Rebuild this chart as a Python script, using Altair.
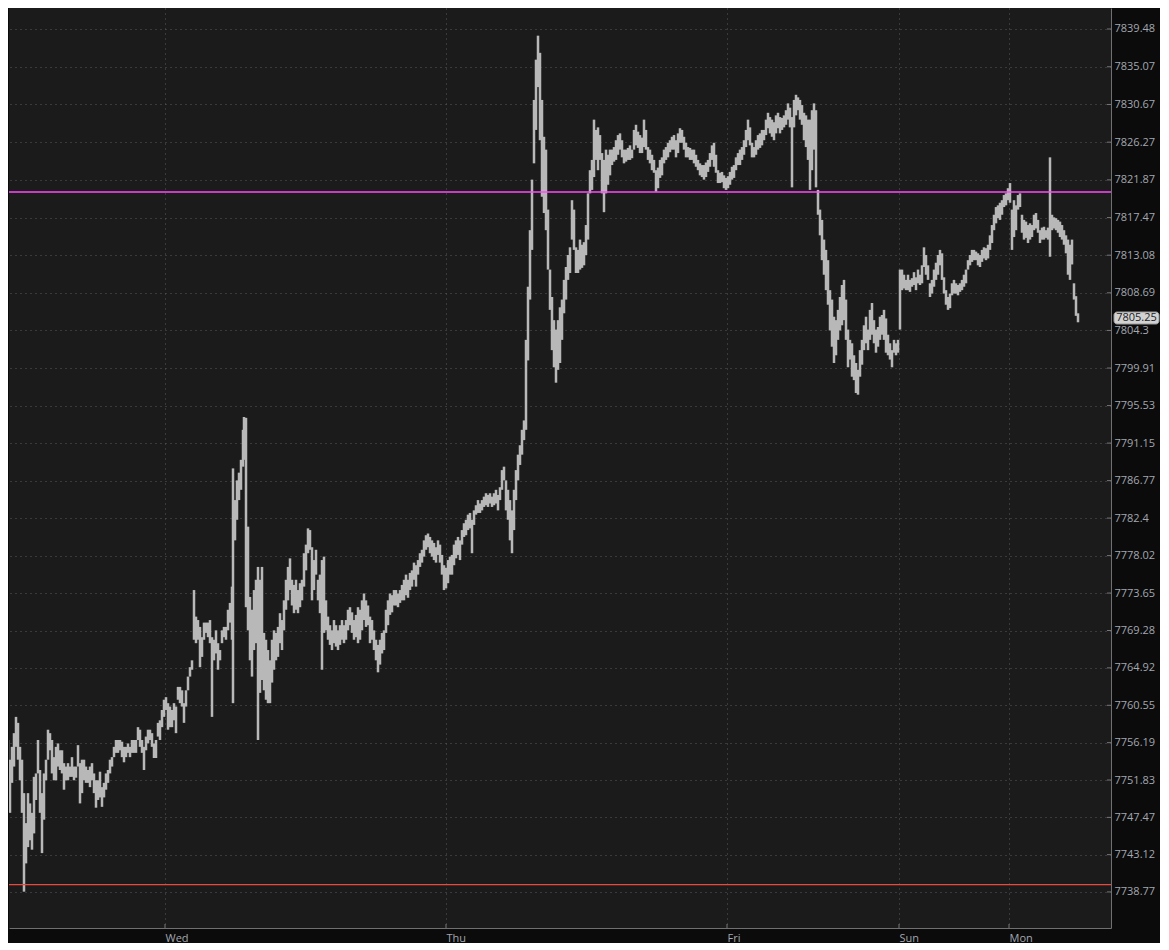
import altair as alt
import pandas as pd

# one entry per 5-minute bar (bar number on the x axis)
bar_no = ([0, 3] + list(range(5, 232, 2)) + [232] + list(range(234, 243, 2))
          + [243] + list(range(245, 1078, 2)))

high = [
    7765.5, 7762.0, 7759.6, 7756.5, 7754.2, 7755.7, 7757.3, 7759.2, 7758.5, 7755.7,
    7754.2, 7750.3, 7746.8, 7750.3, 7749.1, 7748.0, 7752.2, 7752.6, 7756.5, 7753.0,
    7750.3, 7752.6, 7754.2, 7757.7, 7757.3, 7756.5, 7754.5, 7755.7, 7756.1, 7755.3,
    7755.3, 7753.8, 7753.4, 7753.8, 7753.4, 7754.5, 7753.4, 7753.4, 7755.9, 7753.8,
    7754.2, 7754.2, 7753.4, 7753.0, 7753.4, 7753.8, 7752.6, 7751.8, 7751.8, 7752.8,
    7751.0, 7751.5, 7752.6, 7753.0, 7754.2, 7754.5, 7755.7, 7756.5, 7756.5, 7756.5,
    7756.3, 7755.7, 7755.7, 7756.1, 7755.7, 7756.5, 7756.5, 7756.5, 7758.0, 7757.7,
    7756.5, 7755.7, 7756.9, 7757.7, 7757.7, 7757.3, 7756.1, 7756.5, 7758.5, 7758.8,
    7760.0, 7761.2, 7761.5, 7760.8, 7760.4, 7760.0, 7760.8, 7760.4, 7762.7, 7762.7,
    7762.3, 7760.8, 7762.3, 7763.9, 7765.0, 7765.8, 7774.0, 7770.9, 7770.5, 7769.7,
    7768.5, 7770.2, 7770.2, 7770.2, 7770.5, 7768.5, 7768.2, 7769.3, 7767.8, 7767.0,
    7769.3, 7769.7, 7769.7, 7771.7, 7772.5, 7774.4, 7788.2, 7784.5, 7786.8, 7787.7,
    7789.2, 7792.7, 7794.2, 7794.1, 7781.4, 7773.2, 7771.7, 7774.0, 7775.2, 7776.7,
    7775.2, 7776.7, 7769.0, 7768.2, 7767.0, 7765.8, 7768.2, 7769.3, 7769.0, 7769.7,
    7771.3, 7770.5, 7772.8, 7775.2, 7776.7, 7777.7, 7775.2, 7774.6, 7775.2, 7774.0,
    7774.8, 7775.2, 7778.3, 7779.3, 7781.2, 7781.0, 7779.0, 7777.5, 7778.7, 7775.2,
    7775.8, 7777.5, 7777.9, 7772.8, 7770.9, 7769.9, 7769.3, 7770.5, 7769.9, 7769.3,
    7769.9, 7770.5, 7769.9, 7770.5, 7771.7, 7772.0, 7771.4, 7770.5, 7771.1, 7772.0,
    7771.7, 7772.8, 7773.6, 7772.8, 7772.2, 7770.9, 7770.5, 7769.3, 7768.2, 7767.6,
    7768.2, 7769.0, 7769.3, 7771.7, 7772.8, 7773.6, 7773.4, 7774.0, 7774.0, 7773.6,
    7774.0, 7774.6, 7775.2, 7775.8, 7775.2, 7776.0, 7776.3, 7777.2, 7776.9, 7777.5,
    7778.3, 7778.7, 7779.8, 7780.4, 7780.6, 7780.2, 7779.8, 7779.5, 7779.0, 7779.8,
    7779.3, 7778.1, 7776.9, 7776.6, 7777.5, 7777.9, 7778.1, 7779.3, 7779.8, 7780.2,
    7779.8, 7781.0, 7781.8, 7782.2, 7782.8, 7783.0, 7782.2, 7783.3, 7783.9, 7784.5,
    7784.1, 7784.5, 7784.9, 7785.3, 7785.1, 7785.3, 7784.9, 7785.3, 7785.7, 7785.1,
    7786.0, 7788.0, 7788.4, 7786.8, 7785.7, 7784.5, 7783.3, 7785.7, 7788.0, 7789.8,
    7790.9, 7792.7, 7793.8, 7803.2, 7809.4, 7816.0, 7821.9, 7831.2, 7835.9, 7838.7,
    7836.7, 7831.2, 7826.9, 7825.4, 7818.4, 7811.4, 7808.2, 7805.5, 7804.4, 7805.5,
    7807.0, 7807.9, 7810.2, 7811.7, 7813.1, 7814.0, 7819.5, 7818.4, 7814.0, 7813.7,
    7814.9, 7814.3, 7814.6, 7816.6, 7820.3, 7823.0, 7824.2, 7828.9, 7827.7, 7828.0,
    7827.1, 7825.0, 7824.2, 7825.4, 7824.8, 7825.4, 7825.4, 7825.7, 7826.5, 7827.1,
    7827.3, 7826.5, 7825.4, 7825.4, 7825.6, 7825.9, 7825.4, 7827.7, 7828.3, 7827.5,
    7827.1, 7826.8, 7828.9, 7827.7, 7825.7, 7825.4, 7824.8, 7824.2, 7823.0, 7823.3,
    7824.2, 7824.5, 7825.4, 7825.7, 7826.2, 7826.5, 7826.9, 7827.1, 7826.5, 7827.3,
    7827.9, 7827.7, 7826.9, 7826.2, 7825.7, 7825.6, 7825.4, 7825.4, 7824.8, 7824.2,
    7823.8, 7823.6, 7823.6, 7823.9, 7824.2, 7825.0, 7825.9, 7826.2, 7824.8, 7823.0,
    7822.7, 7822.8, 7822.4, 7822.1, 7822.3, 7822.8, 7823.4, 7823.6, 7824.5, 7825.0,
    7825.4, 7825.7, 7826.5, 7827.7, 7828.9, 7828.0, 7826.2, 7825.7, 7826.5, 7827.1,
    7827.3, 7827.7, 7827.7, 7828.9, 7829.7, 7829.2, 7828.9, 7828.6, 7829.4, 7829.7,
    7829.2, 7829.1, 7829.4, 7830.0, 7830.8, 7830.3, 7829.2, 7831.2, 7831.8, 7831.5,
    7831.2, 7830.6, 7829.7, 7829.4, 7828.9, 7828.9, 7830.0, 7830.8, 7830.0, 7820.7,
    7818.4, 7817.2, 7814.9, 7813.7, 7812.5, 7809.0, 7807.9, 7805.9, 7805.5, 7806.7,
    7808.2, 7809.6, 7810.2, 7807.9, 7804.4, 7803.2, 7802.8, 7801.4, 7800.5, 7799.7,
    7802.0, 7803.2, 7804.9, 7805.9, 7804.4, 7806.7, 7807.5, 7805.5, 7804.4, 7804.7,
    7805.9, 7806.1, 7806.7, 7805.7, 7803.8, 7802.8, 7802.0, 7803.2, 7802.8, 7803.2,
    7811.4, 7811.4, 7810.8, 7810.2, 7810.8, 7810.2, 7810.4, 7811.1, 7810.5, 7811.4,
    7810.8, 7811.9, 7814.0, 7813.1, 7811.9, 7809.8, 7810.2, 7811.4, 7812.2, 7813.1,
    7813.7, 7813.3, 7810.5, 7809.0, 7808.2, 7808.6, 7809.8, 7810.2, 7809.8, 7809.6,
    7809.8, 7810.2, 7810.8, 7811.4, 7812.5, 7813.1, 7813.7, 7813.7, 7813.5, 7813.3,
    7813.1, 7813.7, 7814.0, 7813.9, 7814.3, 7815.4, 7816.6, 7817.8, 7818.7, 7818.9,
    7819.2, 7819.5, 7820.1, 7820.3, 7820.9, 7821.5, 7818.4, 7819.5, 7818.9, 7820.1,
    7820.3, 7817.8, 7817.2, 7817.0, 7816.6, 7816.8, 7816.6, 7817.8, 7818.0, 7817.2,
    7816.0, 7816.3, 7816.4, 7816.0, 7816.3, 7824.5, 7817.8, 7817.5, 7817.4, 7817.2,
    7817.0, 7816.6, 7816.0, 7815.4, 7814.9, 7814.3, 7814.9, 7809.8, 7808.3, 7806.3,
]

low = [
    7760.8, 7758.1, 7754.2, 7753.0, 7748.0, 7751.5, 7753.4, 7755.7, 7754.2, 7751.8,
    7748.0, 7738.8, 7742.1, 7744.0, 7744.8, 7743.7, 7745.6, 7749.5, 7752.6, 7748.0,
    7743.3, 7747.2, 7751.8, 7754.2, 7755.3, 7752.6, 7751.8, 7751.8, 7753.4, 7753.0,
    7752.6, 7750.7, 7751.8, 7751.8, 7752.2, 7752.2, 7751.8, 7752.1, 7753.4, 7749.1,
    7750.3, 7751.8, 7751.5, 7751.5, 7751.0, 7751.8, 7750.3, 7748.6, 7749.5, 7749.8,
    7748.7, 7749.8, 7750.7, 7751.5, 7752.6, 7753.4, 7754.5, 7755.0, 7755.0, 7755.3,
    7754.5, 7753.9, 7754.5, 7755.0, 7754.5, 7755.0, 7755.0, 7755.0, 7756.5, 7755.7,
    7755.0, 7753.0, 7755.3, 7756.1, 7756.5, 7755.7, 7754.4, 7754.4, 7756.9, 7756.5,
    7758.0, 7759.2, 7760.0, 7757.7, 7758.0, 7758.0, 7758.8, 7757.3, 7761.2, 7760.8,
    7760.4, 7758.5, 7760.4, 7762.3, 7763.9, 7764.7, 7768.2, 7767.8, 7768.2, 7765.0,
    7766.2, 7768.2, 7769.0, 7768.5, 7767.8, 7759.2, 7765.8, 7766.6, 7764.7, 7765.8,
    7767.8, 7768.5, 7768.2, 7769.3, 7770.2, 7768.2, 7760.8, 7779.8, 7782.2, 7784.5,
    7785.7, 7788.4, 7789.2, 7772.0, 7769.3, 7765.8, 7763.9, 7767.0, 7767.8, 7756.5,
    7762.0, 7763.5, 7762.3, 7761.2, 7760.8, 7760.8, 7763.2, 7764.7, 7765.8, 7766.2,
    7767.8, 7767.0, 7769.3, 7771.7, 7772.8, 7774.0, 7772.2, 7771.3, 7771.7, 7771.3,
    7772.0, 7772.8, 7774.4, 7776.3, 7778.3, 7778.7, 7772.8, 7774.0, 7775.8, 7772.8,
    7771.3, 7764.7, 7769.0, 7769.3, 7768.2, 7767.6, 7767.0, 7767.8, 7767.4, 7767.0,
    7767.6, 7768.2, 7767.8, 7768.2, 7769.3, 7769.9, 7769.0, 7768.2, 7768.5, 7767.8,
    7768.2, 7769.3, 7770.5, 7769.7, 7769.9, 7767.8, 7768.2, 7767.0, 7765.8, 7764.4,
    7765.3, 7766.6, 7767.0, 7769.0, 7769.9, 7771.1, 7771.4, 7772.2, 7772.2, 7772.0,
    7772.5, 7772.8, 7772.8, 7773.4, 7773.1, 7774.0, 7774.4, 7775.2, 7774.4, 7775.8,
    7776.7, 7777.2, 7777.9, 7778.7, 7779.0, 7778.3, 7777.9, 7777.5, 7777.2, 7778.1,
    7777.2, 7775.8, 7774.0, 7774.2, 7774.8, 7775.8, 7775.8, 7776.9, 7777.7, 7778.1,
    7777.5, 7779.3, 7780.2, 7780.4, 7781.0, 7781.2, 7778.3, 7781.6, 7782.8, 7783.0,
    7783.0, 7783.3, 7783.7, 7783.9, 7783.7, 7784.1, 7783.7, 7783.9, 7784.1, 7783.3,
    7784.5, 7785.7, 7786.8, 7783.3, 7782.2, 7779.8, 7778.3, 7781.0, 7784.5, 7786.8,
    7788.6, 7789.8, 7791.5, 7792.7, 7800.8, 7807.9, 7813.7, 7823.8, 7827.7, 7832.7,
    7826.5, 7819.9, 7818.0, 7816.0, 7811.4, 7806.7, 7802.0, 7800.0, 7798.2, 7799.7,
    7800.5, 7803.2, 7806.3, 7807.9, 7810.2, 7811.0, 7814.9, 7813.7, 7811.0, 7811.0,
    7811.4, 7811.6, 7811.9, 7813.1, 7814.9, 7820.3, 7820.7, 7822.2, 7824.2, 7823.0,
    7824.2, 7820.3, 7818.1, 7820.3, 7821.3, 7822.4, 7823.6, 7824.0, 7824.2, 7824.8,
    7825.4, 7824.5, 7823.8, 7824.0, 7824.2, 7824.2, 7824.4, 7825.4, 7825.9, 7825.6,
    7825.0, 7825.0, 7825.7, 7825.4, 7824.2, 7823.8, 7823.0, 7822.7, 7820.5, 7820.9,
    7822.1, 7822.4, 7823.8, 7824.2, 7824.5, 7825.1, 7825.4, 7825.4, 7824.5, 7825.0,
    7826.2, 7826.2, 7825.4, 7824.5, 7824.5, 7824.2, 7824.2, 7823.8, 7823.4, 7823.0,
    7822.4, 7822.2, 7821.9, 7822.2, 7822.8, 7823.4, 7824.2, 7823.4, 7822.7, 7821.5,
    7821.5, 7821.6, 7820.9, 7820.7, 7820.9, 7821.3, 7821.9, 7822.1, 7823.0, 7823.6,
    7823.6, 7824.2, 7824.8, 7825.7, 7826.5, 7825.9, 7824.5, 7824.5, 7824.8, 7825.4,
    7825.6, 7825.9, 7826.5, 7827.1, 7827.9, 7827.3, 7826.9, 7826.5, 7827.3, 7827.9,
    7827.3, 7827.7, 7828.0, 7828.3, 7828.9, 7828.0, 7821.0, 7828.0, 7829.4, 7830.0,
    7828.9, 7828.3, 7826.5, 7825.7, 7824.2, 7820.7, 7823.0, 7825.4, 7821.0, 7817.8,
    7815.4, 7812.5, 7810.8, 7809.0, 7807.3, 7804.3, 7802.4, 7800.5, 7801.4, 7803.2,
    7804.3, 7804.9, 7805.5, 7803.2, 7800.0, 7800.9, 7798.9, 7798.5, 7797.0, 7796.8,
    7798.9, 7800.3, 7802.0, 7802.8, 7802.0, 7803.2, 7803.8, 7802.8, 7801.7, 7802.4,
    7803.2, 7803.8, 7803.2, 7801.7, 7801.4, 7800.9, 7800.0, 7801.7, 7801.4, 7801.7,
    7804.4, 7809.0, 7809.2, 7809.0, 7809.0, 7808.8, 7809.4, 7809.6, 7809.0, 7809.8,
    7809.6, 7809.8, 7811.7, 7810.8, 7810.2, 7808.2, 7808.6, 7809.4, 7810.2, 7810.8,
    7811.9, 7810.2, 7808.6, 7807.3, 7806.7, 7806.9, 7808.4, 7808.6, 7808.6, 7808.4,
    7808.8, 7809.0, 7809.4, 7809.8, 7811.4, 7811.9, 7812.3, 7812.5, 7812.5, 7811.9,
    7811.7, 7812.3, 7812.7, 7812.5, 7812.7, 7813.7, 7814.5, 7816.0, 7816.8, 7817.4,
    7817.2, 7817.8, 7818.7, 7818.9, 7819.5, 7819.2, 7813.7, 7815.2, 7816.0, 7818.4,
    7818.7, 7815.7, 7814.9, 7815.1, 7814.5, 7814.9, 7815.2, 7816.0, 7816.2, 7815.7,
    7814.5, 7814.9, 7814.9, 7815.1, 7814.9, 7812.9, 7816.0, 7816.2, 7816.0, 7815.7,
    7815.2, 7814.9, 7814.3, 7813.3, 7810.8, 7810.2, 7812.0, 7807.9, 7806.0, 7805.25,
]

day_pos = [164, 445, 726, 898, 1008]
day_name = ["Wed", "Thu", "Fri", "Sun", "Mon"]

price_ticks = [7839.48, 7835.07, 7830.67, 7826.27, 7821.87, 7817.47, 7813.08,
               7808.69, 7804.3, 7799.91, 7795.53, 7791.15, 7786.77, 7782.4,
               7778.02, 7773.65, 7769.28, 7764.92, 7760.55, 7756.19, 7751.83,
               7747.47, 7743.12, 7738.77]

last_price = 7805.25
magenta_level = 7820.46
red_level = 7739.62

bars = pd.DataFrame({"bar": bar_no, "high": high, "low": low})

label_expr = ""
for pos, name in zip(day_pos, day_name):
    label_expr += f"datum.value == {pos} ? '{name}' : "
label_expr += "''"

# the page keeps an 8px margin, so the view starts at bar 8
x_scale = alt.Scale(domain=[8, 1110], nice=False, zero=False)
y_scale = alt.Scale(domain=[7734.56, 7841.93], nice=False, zero=False)

x_axis = alt.Axis(values=day_pos, labelExpr=label_expr, title=None, orient="bottom",
                  grid=True, tickSize=0, labelAlign="left", labelBaseline="top",
                  labelPadding=4, labelFlush=False)
y_axis = alt.Axis(values=price_ticks, format=".2~f", title=None, orient="right",
                  grid=True, tickSize=0, labelPadding=3, labelBaseline="middle")

price_bars = alt.Chart(bars).mark_rule(
    color="#b8b8b8", strokeWidth=2.5, clip=True
).encode(
    x=alt.X("bar:Q", scale=x_scale, axis=x_axis),
    y=alt.Y("high:Q", scale=y_scale, axis=y_axis),
    y2="low:Q"
)

magenta = alt.Chart(pd.DataFrame({"level": [magenta_level]})).mark_rule(
    color="#ff4aff", strokeWidth=1.6
).encode(y=alt.Y("level:Q", scale=y_scale, axis=y_axis))

red = alt.Chart(pd.DataFrame({"level": [red_level]})).mark_rule(
    color="#e84a40", strokeWidth=1.2
).encode(y=alt.Y("level:Q", scale=y_scale, axis=y_axis))

# short inward ticks on both axes
y_ticks = alt.Chart(pd.DataFrame({"price": price_ticks})).mark_rule(
    color="#777777", strokeWidth=1
).encode(
    y=alt.Y("price:Q", scale=y_scale, axis=y_axis),
    x=alt.value(1098), x2=alt.value(1102)
)

x_ticks = alt.Chart(pd.DataFrame({"bar": day_pos})).mark_rule(
    color="#777777", strokeWidth=1
).encode(
    x=alt.X("bar:Q", scale=x_scale, axis=x_axis),
    y=alt.value(916), y2=alt.value(920)
)

# last price badge
badge_df = pd.DataFrame({
    "hi": [last_price + 1.2], "lo": [last_price - 0.2],
    "mid": [last_price + 0.5], "txt": [f"{last_price:.2f}"]
})
badge = alt.Chart(badge_df).mark_rect(
    color="#d2d2d2", cornerRadius=3, stroke="#9a9a9a", strokeWidth=1
).encode(
    x=alt.value(1105), x2=alt.value(1150),
    y=alt.Y("hi:Q", scale=y_scale, axis=y_axis), y2="lo:Q"
)
badge_text = alt.Chart(badge_df).mark_text(
    color="#222222", fontSize=11, font="Open Sans", align="center", baseline="middle"
).encode(
    x=alt.value(1127.5),
    y=alt.Y("mid:Q", scale=y_scale, axis=y_axis),
    text="txt:N"
)

chart = alt.layer(
    price_bars, magenta, red, y_ticks, x_ticks, badge, badge_text
).properties(
    width=1102, height=920, background="#0b0b0b", padding=0
).configure_view(
    fill="#1b1b1b", stroke=None
).configure_axis(
    gridColor="#5a5a5a", gridDash=[1, 4], gridWidth=1,
    domainColor="#707070", domainWidth=1,
    labelColor="#a3a7b0", labelFont="Open Sans", labelFontSize=11
)

chart.save("out.html", embed_options={"renderer": "svg", "actions": False})
